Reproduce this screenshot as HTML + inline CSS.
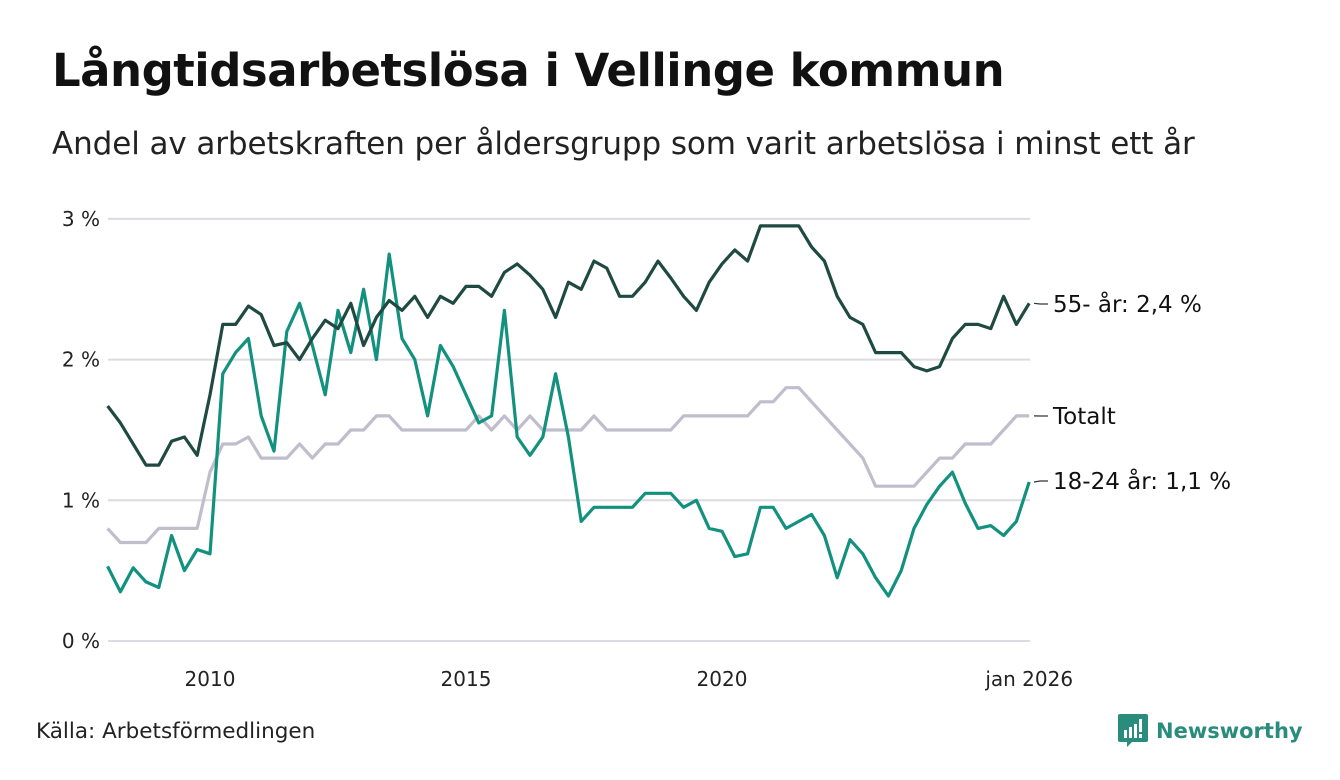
<!DOCTYPE html>
<html><head><meta charset="utf-8">
<style>
body{margin:0;width:1340px;height:780px;background:#fff;font-family:"DejaVu Sans","Liberation Sans",sans-serif;overflow:hidden;position:relative;color:#111}
#title{position:absolute;left:52px;top:44px;font-size:45px;font-weight:bold;margin:0;letter-spacing:-0.5px}
#sub{position:absolute;left:52px;top:126px;font-size:31px;color:#222;letter-spacing:-0.1px}
#src{position:absolute;left:36px;top:719px;font-size:21.5px;color:#222}
#logo{position:absolute;left:1118px;top:714px;display:flex;align-items:center}
#logo span{font-size:21px;font-weight:bold;color:#2a8c7c;margin-left:8px}
svg text{font-family:"DejaVu Sans","Liberation Sans",sans-serif}
</style></head><body>
<h1 id="title">Långtidsarbetslösa i Vellinge kommun</h1>
<div id="sub">Andel av arbetskraften per åldersgrupp som varit arbetslösa i minst ett år</div>
<div id="src">Källa: Arbetsförmedlingen</div>
<div id="logo">
<svg width="30" height="34" viewBox="0 0 30 34"><path d="M2 0h26a2 2 0 0 1 2 2v24a2 2 0 0 1-2 2H14l-5 5v-5H2a2 2 0 0 1-2-2V2a2 2 0 0 1 2-2z" fill="#2a8c7c"/><rect x="6" y="16" width="3" height="8" fill="#fff"/><rect x="11" y="13" width="3" height="11" fill="#fff"/><rect x="16" y="10" width="3" height="14" fill="#fff"/><rect x="21" y="5" width="3" height="13" fill="#fff"/><rect x="21" y="20" width="3" height="4" fill="#fff"/></svg>
<span>Newsworthy</span></div>
<svg id="chart" width="1340" height="780" style="position:absolute;left:0;top:0"></svg>
<script>
const yTicks=[0,1,2,3];
const yTickLabels=["0 %","1 %","2 %","3 %"];
const xTicks=[2010,2015,2020,2026];
const xTickLabels=["2010","2015","2020","jan 2026"];
const startYear=2008, stepYears=0.25;
const old55=[1.67,1.55,1.40,1.25,1.25,1.42,1.45,1.32,1.75,2.25,2.25,2.38,2.32,2.10,2.12,2.00,2.15,2.28,2.22,2.40,2.10,2.30,2.42,2.35,2.45,2.30,2.45,2.40,2.52,2.52,2.45,2.62,2.68,2.60,2.50,2.30,2.55,2.50,2.70,2.65,2.45,2.45,2.55,2.70,2.58,2.45,2.35,2.55,2.68,2.78,2.70,2.95,2.95,2.95,2.95,2.80,2.70,2.45,2.30,2.25,2.05,2.05,2.05,1.95,1.92,1.95,2.15,2.25,2.25,2.22,2.45,2.25,2.40];
const young=[0.53,0.35,0.52,0.42,0.38,0.75,0.50,0.65,0.62,1.90,2.05,2.15,1.60,1.35,2.20,2.40,2.10,1.75,2.35,2.05,2.50,2.00,2.75,2.15,2.00,1.60,2.10,1.95,1.75,1.55,1.60,2.35,1.45,1.32,1.45,1.90,1.45,0.85,0.95,0.95,0.95,0.95,1.05,1.05,1.05,0.95,1.00,0.80,0.78,0.60,0.62,0.95,0.95,0.80,0.85,0.90,0.75,0.45,0.72,0.62,0.45,0.32,0.50,0.80,0.97,1.10,1.20,0.98,0.80,0.82,0.75,0.85,1.13];
const total=[0.8,0.7,0.7,0.7,0.8,0.8,0.8,0.8,1.2,1.4,1.4,1.45,1.3,1.3,1.3,1.4,1.3,1.4,1.4,1.5,1.5,1.6,1.6,1.5,1.5,1.5,1.5,1.5,1.5,1.6,1.5,1.6,1.5,1.6,1.5,1.5,1.5,1.5,1.6,1.5,1.5,1.5,1.5,1.5,1.5,1.6,1.6,1.6,1.6,1.6,1.6,1.7,1.7,1.8,1.8,1.7,1.6,1.5,1.4,1.3,1.1,1.1,1.1,1.1,1.2,1.3,1.3,1.4,1.4,1.4,1.5,1.6,1.6];
const seriesLabels=["55- år: 2,4 %","Totalt","18-24 år: 1,1 %"];

const NS="http://www.w3.org/2000/svg";
const svg=document.getElementById('chart');
const x=yr=>210+(yr-2010)*51.2;
const y=v=>641-v*140.7;
function mk(t,a){const e=document.createElementNS(NS,t);for(const k in a)e.setAttribute(k,a[k]);svg.appendChild(e);return e;}
yTicks.forEach((v,i)=>{
  const g=mk('line',{x1:108,x2:1030,y1:y(v),y2:y(v),stroke:'#dcdae2','stroke-width':2});
  
  
  const t=mk('text',{x:100,y:y(v)+7,'text-anchor':'end','font-size':20,fill:'#222'});
  t.textContent=yTickLabels[i];
  
  
});
xTicks.forEach((yr,i)=>{
  const t=mk('text',{x:x(yr),y:686,'text-anchor':'middle','font-size':20,fill:'#222'});
  t.textContent=xTickLabels[i];
  
  
});
function line(arr,color,name){
  const d=arr.map((v,i)=>(i?'L':'M')+x(startYear+i*stepYears).toFixed(1)+','+y(v).toFixed(1)).join('');
  const p=mk('path',{d:d,fill:'none',stroke:color,'stroke-width':3.2,'stroke-linejoin':'round'});
  
  
}
line(total,'#c0bdcc','line-totalt');
line(young,'#13917f','line-18-24');
line(old55,'#1f4a42','line-55-plus');
const ends=[[old55,304],[total,416],[young,481]];
ends.forEach((e,i)=>{
  const arr=e[0],v=arr[arr.length-1];
  const l=mk('path',{d:`M1034,${y(v)} L1040,${e[1]} L1048,${e[1]}`,fill:'none',stroke:'#333','stroke-width':1.2});
  
  
  const t=mk('text',{x:1053,y:e[1]+8,'font-size':23,fill:'#111'});
  t.textContent=seriesLabels[i];
  
  
});
</script>
</body></html>
